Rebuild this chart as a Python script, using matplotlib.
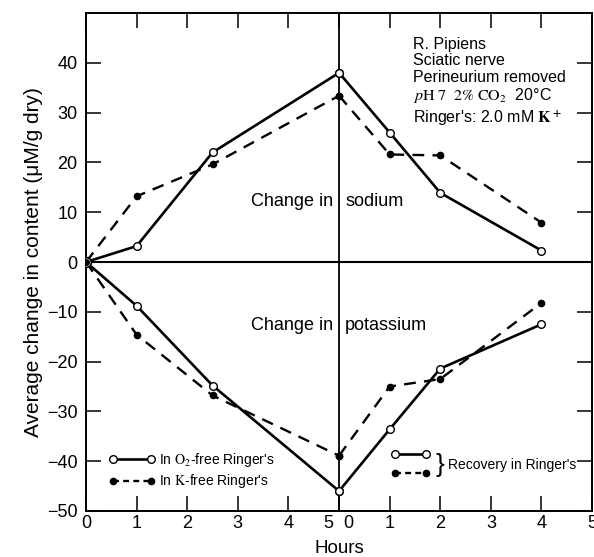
import matplotlib
matplotlib.use("Agg")
import matplotlib.pyplot as plt
from matplotlib.lines import Line2D

plt.rcParams['font.family'] = ['Liberation Sans', 'DejaVu Sans']
plt.rcParams['mathtext.fontset'] = 'stix'

# hours: first panel 0-5 in O2-free / K-free, second panel 0-5 recovery (shifted by 5)
hours_exp = [0, 1, 2.5, 5]
hours_rec = [0, 1, 2, 4]

# sodium change (uM/g dry)
na_o2_exp = [0, 3.2, 22, 38]
na_k_exp = [0, 13.2, 19.6, 33.4]
na_o2_rec = [38, 26, 13.9, 2.3]
na_k_rec = [33.4, 21.6, 21.4, 7.9]

# potassium change
k_o2_exp = [0, -8.8, -24.8, -46]
k_k_exp = [0, -14.6, -26.8, -38.9]
k_o2_rec = [-46, -33.6, -21.4, -12.5]
k_k_rec = [-38.9, -25.0, -23.5, -8.2]

xtick_pos = [0, 1, 2, 3, 4, 5, 6, 7, 8, 9, 10]
xtick_lab = ['0', '1', '2', '3', '4', '5  0', '1', '2', '3', '4', '5']
ytick_pos = [-50, -40, -30, -20, -10, 0, 10, 20, 30, 40]
ytick_lab = ['\u221250', '\u221240', '\u221230', '\u221220', '\u221210', '0', '10', '20', '30', '40']

fig = plt.figure(figsize=(5.94, 5.57), dpi=100)
ax = fig.add_axes([0.1448, 0.0826, 0.852, 0.894])

shift = 5
x_rec = [h + shift for h in hours_rec]

solid = dict(color='black', lw=1.9, ls='-', marker='o', ms=5.5,
             mfc='white', mec='black', mew=1.0, zorder=4)
dashed = dict(color='black', lw=1.7, ls=(0, (5, 3.5)), marker='o', ms=4.5,
              mfc='black', mec='black', zorder=3)

ax.plot(hours_exp, na_o2_exp, **solid)
ax.plot(hours_exp, na_k_exp, **dashed)
ax.plot(x_rec, na_o2_rec, **solid)
ax.plot(x_rec, na_k_rec, **dashed)
ax.plot(hours_exp, k_o2_exp, **solid)
ax.plot(hours_exp, k_k_exp, **dashed)
ax.plot(x_rec, k_o2_rec, **solid)
ax.plot(x_rec, k_k_rec, **dashed)
# origin: filled dot inside open circle
ax.plot([0], [0], 'o', ms=7, mfc='white', mec='black', mew=1.2, zorder=5)
ax.plot([0], [0], 'o', ms=4, mfc='black', mec='black', zorder=6)

ax.axhline(0, color='black', lw=1.5, zorder=2)
ax.axvline(shift, color='black', lw=1.3, zorder=2)

ax.set_xlim(0, 10)
ax.set_ylim(-50, 50)
ax.set_xticks(xtick_pos)
ax.set_xticklabels(xtick_lab)
ax.set_yticks(ytick_pos)
ax.set_yticklabels(ytick_lab)
ax.tick_params(axis='both', direction='in', length=11, width=1.1,
               labelsize=13, top=True, right=True)
ax.tick_params(axis='x', pad=3)
ax.tick_params(axis='y', pad=6)
for s in ax.spines.values():
    s.set_linewidth(1.4)

ax.set_xlabel('Hours', fontsize=13.5, labelpad=6)
ax.set_ylabel('Average change in content (\u03bcM/g dry)', fontsize=15, labelpad=3)

ax.text(4.88, 12.2, 'Change in', fontsize=13, ha='right', va='center')
ax.text(5.12, 12.2, 'sodium', fontsize=13, ha='left', va='center')
ax.text(4.88, -12.8, 'Change in', fontsize=13, ha='right', va='center')
ax.text(5.12, -12.8, 'potassium', fontsize=13, ha='left', va='center')

info = ['R. Pipiens',
        'Sciatic nerve',
        'Perineurium removed',
        r'$p\mathrm{H}\ 7\ \ 2\%\ \mathrm{CO_2}$' + '  20\u00b0C',
        r"Ringer's: 2.0 mM $\mathbf{K^+}$"]
ax.text(0.646, 0.952, '\n'.join(info), transform=ax.transAxes, fontsize=11.5,
        ha='left', va='top', linespacing=1.12)

h_o2 = Line2D([], [], color='black', lw=1.9, marker='o', ms=5.5, mfc='white', mec='black')
h_k = Line2D([], [], color='black', lw=1.7, ls=(0, (2.5, 1.8)), marker='o', ms=4.5,
             mfc='black', mec='black')
leg1 = ax.legend([h_o2, h_k], [r"In $\mathrm{O_2}$-free Ringer's", r"In $\mathrm{K}$-free Ringer's"],
                 loc='lower left', bbox_to_anchor=(0.035, 0.03), frameon=False,
                 fontsize=10, handlelength=3.3, handletextpad=0.3, labelspacing=0.25,
                 numpoints=2, borderaxespad=0)
ax.add_artist(leg1)
leg2 = ax.legend([h_o2, h_k], ['', ''], loc='lower left', bbox_to_anchor=(0.592, 0.05),
                 frameon=False, fontsize=10, handlelength=2.8, handletextpad=0.0,
                 labelspacing=0.35, numpoints=2, borderaxespad=0)
ax.text(0.69, 0.092, '}', transform=ax.transAxes, fontsize=19, ha='left', va='center')
ax.text(0.715, 0.092, "Recovery in Ringer's", transform=ax.transAxes, fontsize=10,
        ha='left', va='center')

fig.savefig('out.png', dpi=100)
